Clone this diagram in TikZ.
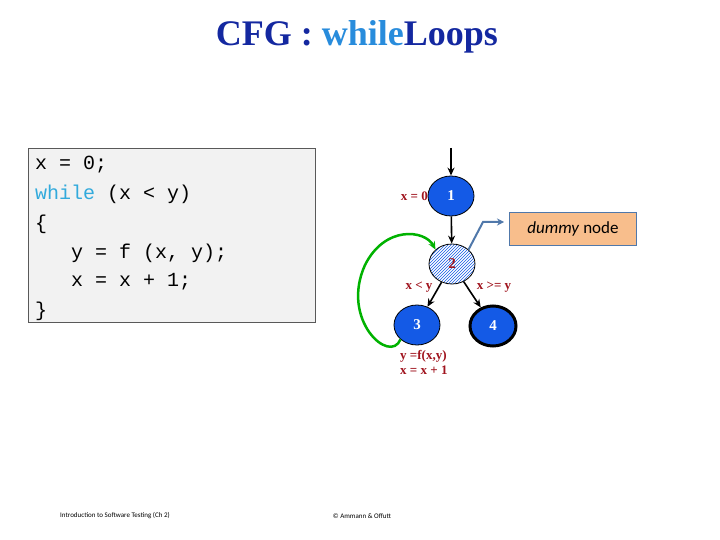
\documentclass[tikz,border=0pt]{standalone}
\usepackage{fontspec}
\setmainfont{Liberation Serif}
\newfontfamily\mono{Liberation Mono}
\newfontfamily\sans{Carlito}
\usetikzlibrary{patterns,arrows.meta}
\definecolor{tblue}{RGB}{20,40,160}
\definecolor{wblue}{RGB}{40,140,220}
\definecolor{lred}{RGB}{160,20,30}
\definecolor{nblue}{RGB}{20,90,230}
\definecolor{kw}{RGB}{50,170,220}
\definecolor{dumfill}{RGB}{248,190,140}
\definecolor{dumline}{RGB}{80,120,170}
\tikzset{
 cfgnode/.style={ellipse,draw=black,thick,fill=nblue,minimum width=46pt,minimum height=40pt,inner sep=0pt,font=\bfseries\fontsize{15}{15}\selectfont,text=white},
 lbl/.style={font=\bfseries\fontsize{13}{13}\selectfont,text=lred,inner sep=0pt},
 edge/.style={-{Stealth[length=8pt,width=7pt]},line width=1.6pt},
 codeline/.style={anchor=west,font=\mono\fontsize{20}{20}\selectfont,inner sep=0pt}
}
\usetikzlibrary{shapes.geometric}
\begin{document}
\begin{tikzpicture}[x=1pt,y=-1pt]
\useasboundingbox (0,0) rectangle (720,540);
\fill[white] (0,0) rectangle (720,540);
\node[font=\bfseries\fontsize{36}{36}\selectfont] (title) at (357,37) {\textcolor{tblue}{CFG : }\textcolor{wblue}{while}\textcolor{tblue}{ Loops}};
\node[draw=gray!70!black,fill=gray!10,minimum width=287pt,minimum height=174pt,anchor=north west,inner sep=0pt] (code) at (28,148) {};
\node[codeline] (c1) at (35,165) {x = 0;};
\node[codeline] (c2) at (35,194) {\textcolor{kw}{while} (x < y)};
\node[codeline] (c3) at (35,224) {\{};
\node[codeline] (c4) at (35,253) {\ \ \ y = f (x, y);};
\node[codeline] (c5) at (35,282) {\ \ \ x = x + 1;};
\node[codeline] (c6) at (35,311) {\}};
\coordinate (entry) at (451,148);
\node[cfgnode] (n1) at (451,196) {1};
\node[cfgnode,pattern=north east lines,pattern color=nblue,text=lred] (n2) at (452,264) {2};
\node[cfgnode] (n3) at (417,325) {3};
\node[cfgnode,line width=3pt] (n4) at (493,326) {4};
\draw[edge] (entry) -- (n1);
\draw[edge] (n1) -- (n2);
\draw[edge] (n2) -- (n3);
\draw[edge] (n2) -- (n4);
\draw[green!70!black,line width=2.5pt,-{Stealth[length=8pt,width=7pt]}] (n3.south west) .. controls (390,365) and (340,320) .. (365,265) .. controls (385,225) and (425,230) .. (n2.north west);
\node[lbl,anchor=east] (l1) at (428,196) {x = 0};
\node[lbl] (l2) at (419,287) {x < y};
\node[lbl] (l3) at (494,287) {x >= y};
\node[lbl,anchor=north west,align=left] (l4) at (400,350) {y =f(x,y)\\[2pt]x = x + 1};
\node[draw=dumline,line width=1.5pt,fill=dumfill,minimum width=127pt,minimum height=33pt,font=\sans\fontsize{17}{17}\selectfont] (dummy) at (573,229) {\textit{dummy} node};
\draw[dumline,line width=2pt,-{Stealth[length=7pt,width=7pt]}] (n2.north east) -- (483,222) -- (504,222);
\node[font=\sans\fontsize{7}{7}\selectfont] (f1) at (115,516) {Introduction to Software Testing (Ch 2)};
\node[font=\sans\fontsize{7}{7}\selectfont] (f2) at (362,516) {© Ammann \& Offutt};
\end{tikzpicture}
\end{document}
